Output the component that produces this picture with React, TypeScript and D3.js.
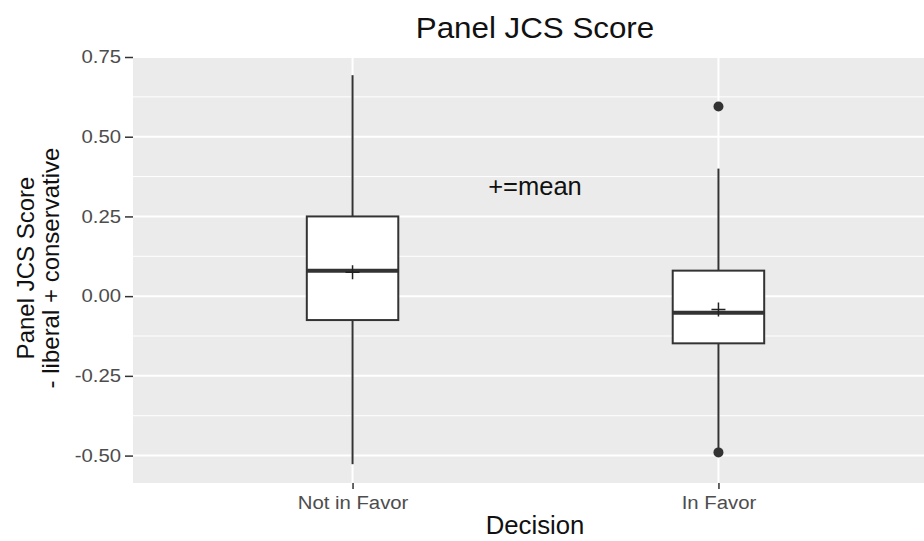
import * as d3 from "d3";
import { useEffect, useRef } from "react";

const categories = ["Not in Favor", "In Favor"];
const q1 = [-0.075, -0.148];
const medians = [0.08, -0.052];
const q3 = [0.25, 0.08];
const whiskerLow = [-0.527, -0.483];
const whiskerHigh = [0.693, 0.4];
const means = [0.075, -0.042];
const outliers = [[], [0.595, -0.49]];
const yTicks = [-0.5, -0.25, 0, 0.25, 0.5, 0.75];
const yMinorTicks = [-0.375, -0.125, 0.125, 0.375, 0.625];

const W = 924;
const H = 541;
const FONT = "'Liberation Sans', Arial, sans-serif";

// stretch text horizontally around its own x anchor
function stretch(sel, s) {
	sel.each(function () {
		const t = d3.select(this);
		const x0 = +t.attr("x") || 0;
		t.attr("x", 0).attr("transform", `translate(${x0},0) scale(${s},1)`);
	});
}

const App = () => {
	const svgRef = useRef(null);

	useEffect(() => {
		const svg = d3.select(svgRef.current);
		svg.selectAll("*").remove();

		const panel = { left: 133, right: 938, top: 57, bottom: 483 };

		const x = d3
			.scalePoint()
			.domain(categories)
			.range([panel.left, panel.right])
			.padding(0.6);

		const y = d3
			.scaleLinear()
			.domain([-0.586, 0.75])
			.range([panel.bottom, panel.top]);

		const boxW = x.step() * 0.25;

		// panel background
		svg.append("rect")
			.attr("x", panel.left)
			.attr("y", panel.top)
			.attr("width", panel.right - panel.left)
			.attr("height", panel.bottom - panel.top)
			.attr("fill", "#ebebeb");

		// minor grid
		svg.append("g")
			.selectAll("line")
			.data(yMinorTicks)
			.join("line")
			.attr("x1", panel.left)
			.attr("x2", panel.right)
			.attr("y1", (d) => y(d))
			.attr("y2", (d) => y(d))
			.attr("stroke", "#fff")
			.attr("stroke-width", 1);

		// major grid
		svg.append("g")
			.selectAll("line")
			.data(yTicks)
			.join("line")
			.attr("x1", panel.left)
			.attr("x2", panel.right)
			.attr("y1", (d) => y(d))
			.attr("y2", (d) => y(d))
			.attr("stroke", "#fff")
			.attr("stroke-width", 2);

		svg.append("g")
			.selectAll("line")
			.data(categories)
			.join("line")
			.attr("x1", (d) => x(d))
			.attr("x2", (d) => x(d))
			.attr("y1", panel.top)
			.attr("y2", panel.bottom)
			.attr("stroke", "#fff")
			.attr("stroke-width", 2);

		// boxes
		const g = svg.append("g");
		categories.forEach((c, i) => {
			const cx = x(c);
			g.append("line")
				.attr("x1", cx)
				.attr("x2", cx)
				.attr("y1", y(whiskerHigh[i]))
				.attr("y2", y(q3[i]))
				.attr("stroke", "#333")
				.attr("stroke-width", 2);
			g.append("line")
				.attr("x1", cx)
				.attr("x2", cx)
				.attr("y1", y(q1[i]))
				.attr("y2", y(whiskerLow[i]))
				.attr("stroke", "#333")
				.attr("stroke-width", 2);
			g.append("rect")
				.attr("x", cx - boxW / 2)
				.attr("y", y(q3[i]))
				.attr("width", boxW)
				.attr("height", y(q1[i]) - y(q3[i]))
				.attr("fill", "#fff")
				.attr("stroke", "#333")
				.attr("stroke-width", 2);
			g.append("line")
				.attr("x1", cx - boxW / 2)
				.attr("x2", cx + boxW / 2)
				.attr("y1", y(medians[i]))
				.attr("y2", y(medians[i]))
				.attr("stroke", "#333")
				.attr("stroke-width", 4);
			// mean marker (+)
			const my = y(means[i]);
			g.append("path")
				.attr("d", `M${cx - 7},${my}H${cx + 7}M${cx},${my - 7}V${my + 7}`)
				.attr("stroke", "#222")
				.attr("stroke-width", 1.5)
				.attr("fill", "none");
			outliers[i].forEach((o) => {
				g.append("circle")
					.attr("cx", cx)
					.attr("cy", y(o))
					.attr("r", 5)
					.attr("fill", "#333");
			});
		});

		// y axis
		const yAxis = svg
			.append("g")
			.attr("transform", `translate(${panel.left},0)`)
			.call(
				d3
					.axisLeft(y)
					.tickValues(yTicks)
					.tickFormat((d) => d.toFixed(2))
					.tickSize(8)
					.tickPadding(4)
			);
		yAxis.select(".domain").remove();
		yAxis.selectAll(".tick line").attr("stroke", "#333").attr("stroke-width", 1.5);
		yAxis.selectAll(".tick text")
			.attr("fill", "#4d4d4d")
			.attr("font-size", 18)
			.attr("font-family", FONT)
			.call(stretch, 1.13);

		// x axis
		const xAxis = svg
			.append("g")
			.attr("transform", `translate(0,${panel.bottom})`)
			.call(d3.axisBottom(x).tickSize(6).tickPadding(7));
		xAxis.select(".domain").remove();
		xAxis.selectAll(".tick line").attr("stroke", "#333").attr("stroke-width", 1.5);
		xAxis.selectAll(".tick text")
			.attr("fill", "#4d4d4d")
			.attr("font-size", 18)
			.attr("font-family", FONT)
			.call(stretch, 1.13);

		// titles
		svg.append("text")
			.attr("x", 535)
			.attr("y", 38)
			.attr("text-anchor", "middle")
			.attr("font-size", 29)
			.attr("font-family", FONT)
			.attr("fill", "#111")
			.call(stretch, 1.08)
			.text("Panel JCS Score");

		svg.append("text")
			.attr("x", 535)
			.attr("y", 195)
			.attr("text-anchor", "middle")
			.attr("font-size", 25.5)
			.attr("font-family", FONT)
			.attr("fill", "#111")
			.text("+=mean");

		svg.append("text")
			.attr("x", 535)
			.attr("y", 534)
			.attr("text-anchor", "middle")
			.attr("font-size", 25)
			.attr("font-family", FONT)
			.attr("fill", "#111")
			.call(stretch, 1.03)
			.text("Decision");

		const yTitle = svg
			.append("text")
			.attr("transform", `translate(34,${(panel.top + panel.bottom) / 2 - 2}) rotate(-90)`)
			.attr("text-anchor", "middle")
			.attr("font-size", 24)
			.attr("font-family", FONT)
			.attr("fill", "#111");
		yTitle.append("tspan").attr("x", 0).attr("y", 0).text("Panel JCS Score");
		yTitle.append("tspan").attr("x", 0).attr("y", 25).text("- liberal + conservative");
	}, []);

	return (
		<svg
			ref={svgRef}
			width={W}
			height={H}
			style={{ position: "absolute", left: 0, top: 0, background: "#fff" }}
		/>
	);
};

export default App;
